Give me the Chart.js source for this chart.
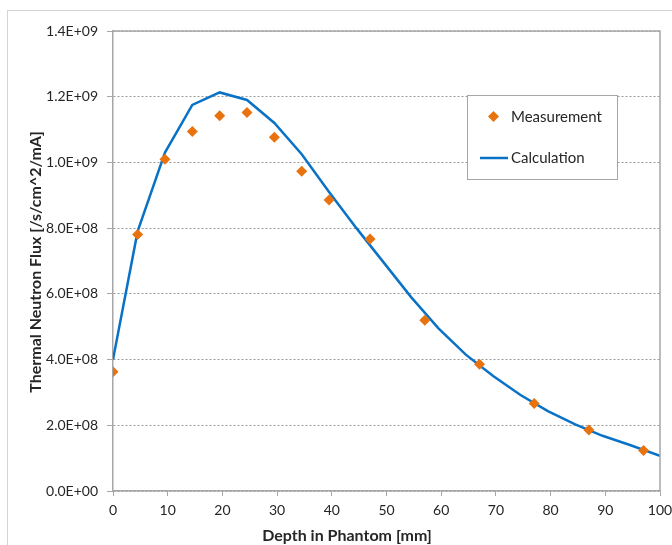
<!DOCTYPE html>
<html>
<head>
<meta charset="utf-8">
<script src="https://cdn.jsdelivr.net/npm/chart.js@4"></script>
<style>
  html, body { margin: 0; padding: 0; background: #fff; }
  #wrap { position: relative; width: 672px; height: 545px; }
</style>
</head>
<body>
<div id="wrap"><canvas id="flux" width="672" height="545"></canvas></div>
<script>
  // depth [mm] and thermal neutron flux [/s/cm^2/mA]
  const measDepth = [0, 4.5, 9.5, 14.5, 19.5, 24.5, 29.5, 34.5, 39.5, 47, 57, 67, 77, 87, 97];
  const measFlux = [3.63e8, 7.81e8, 1.01e9, 1.094e9, 1.142e9, 1.152e9, 1.077e9, 0.973e9, 0.886e9,
    7.67e8, 5.2e8, 3.86e8, 2.66e8, 1.86e8, 1.23e8];

  const calcDepth = [0, 4.5, 9.5, 14.5, 19.5, 24.5, 29.5, 34.5, 39.5, 44.5, 49.5, 54.5, 59.5,
    64.5, 69.5, 74.5, 79.5, 84.5, 89.5, 94.5, 100];
  const calcFlux = [4.0e8, 7.9e8, 1.03e9, 1.175e9, 1.213e9, 1.19e9, 1.12e9, 1.025e9, 0.91e9,
    8.0e8, 6.95e8, 5.9e8, 4.95e8, 4.15e8, 3.5e8, 2.92e8, 2.43e8, 2.03e8, 1.68e8, 1.4e8, 1.07e8];

  const xTicks = [0, 10, 20, 30, 40, 50, 60, 70, 80, 90, 100];
  const yTicks = [0, 2e8, 4e8, 6e8, 8e8, 1.0e9, 1.2e9, 1.4e9];

  const xTitle = 'Depth in Phantom [mm]';
  const yTitle = 'Thermal Neutron Flux [/s/cm^2/mA]';
  const seriesNames = ['Measurement', 'Calculation'];

  const ORANGE = '#E8730E';
  const BLUE = '#0A72C6';
  const AXIS = '#a6a6a6';
  const TEXT = '#262626';

  function pairs(xs, ys) {
    return xs.map((x, i) => ({ x: x, y: ys[i] }));
  }

  function sci(v) {
    if (v === 0) {
      return '0.0E+00';
    }
    const exp = Math.floor(Math.log10(Math.abs(v)) + 1e-9);
    const mant = v / Math.pow(10, exp);
    const e = String(Math.abs(exp)).padStart(2, '0');
    return mant.toFixed(1) + 'E' + (exp < 0 ? '-' : '+') + e;
  }

  // outer frame, plot frame, axis titles and the boxed legend
  const decor = {
    id: 'decor',
    beforeDraw(chart) {
      const ctx = chart.ctx;
      ctx.save();
      ctx.strokeStyle = '#d4d4d4';
      ctx.lineWidth = 1;
      ctx.strokeRect(7.5, 10.5, 700, 600);
      ctx.restore();
    },
    afterDraw(chart) {
      const ctx = chart.ctx;
      const a = chart.chartArea;
      ctx.save();
      ctx.strokeStyle = AXIS;
      ctx.lineWidth = 1.5;
      ctx.beginPath();
      ctx.moveTo(a.left, a.top);
      ctx.lineTo(a.right, a.top);
      ctx.lineTo(a.right, a.bottom);
      ctx.stroke();

      ctx.fillStyle = TEXT;
      ctx.font = 'bold 16px Lato';
      ctx.textAlign = 'center';
      ctx.textBaseline = 'middle';
      ctx.fillText(xTitle, 347, 536);
      ctx.translate(36, 262);
      ctx.rotate(-Math.PI / 2);
      ctx.fillText(yTitle, 0, 0);
      ctx.restore();

      // legend
      ctx.save();
      ctx.fillStyle = '#fff';
      ctx.fillRect(467.5, 95.5, 150, 84);
      ctx.strokeStyle = '#a6a6a6';
      ctx.lineWidth = 1;
      ctx.strokeRect(467.5, 95.5, 150, 84);
      ctx.fillStyle = ORANGE;
      ctx.beginPath();
      ctx.moveTo(493.5, 111);
      ctx.lineTo(499, 116.5);
      ctx.lineTo(493.5, 122);
      ctx.lineTo(488, 116.5);
      ctx.closePath();
      ctx.fill();
      ctx.strokeStyle = BLUE;
      ctx.lineWidth = 2.5;
      ctx.beginPath();
      ctx.moveTo(480, 158);
      ctx.lineTo(508, 158);
      ctx.stroke();
      ctx.fillStyle = TEXT;
      ctx.font = '15px Lato';
      ctx.textAlign = 'left';
      ctx.textBaseline = 'middle';
      ctx.fillText(seriesNames[0], 511, 117);
      ctx.fillText(seriesNames[1], 511, 158);
      ctx.restore();
    },
  };

  new Chart(document.getElementById('flux'), {
    type: 'scatter',
    data: {
      datasets: [
        {
          label: seriesNames[0],
          data: pairs(measDepth, measFlux),
          pointStyle: 'rectRot',
          pointRadius: 5.5,
          pointBackgroundColor: ORANGE,
          pointBorderColor: ORANGE,
          pointBorderWidth: 0,
          showLine: false,
          order: 0,
        },
        {
          label: seriesNames[1],
          data: pairs(calcDepth, calcFlux),
          showLine: true,
          borderColor: BLUE,
          borderWidth: 2.5,
          pointRadius: 0,
          tension: 0,
          order: 1,
        },
      ],
    },
    options: {
      responsive: false,
      animation: false,
      devicePixelRatio: 1,
      layout: { padding: { left: 0, top: 31, right: 12, bottom: 0 } },
      plugins: {
        legend: { display: false },
        tooltip: { enabled: false },
      },
      scales: {
        x: {
          type: 'linear',
          min: 0,
          max: 100,
          afterFit(scale) {
            scale.height = 54;
            scale.paddingLeft = 0;
            scale.paddingRight = 0;
          },
          afterBuildTicks(scale) { scale.ticks = xTicks.map((v) => ({ value: v })); },
          grid: { drawOnChartArea: false, tickLength: 5, tickColor: AXIS, tickWidth: 1 },
          border: { color: AXIS, width: 1.5 },
          ticks: {
            color: TEXT,
            font: { family: 'Lato', size: 14 },
            padding: 6,
            maxRotation: 0,
            autoSkip: false,
          },
        },
        y: {
          type: 'linear',
          min: 0,
          max: 1.4e9,
          afterFit(scale) {
            scale.width = 113;
            scale.paddingTop = 0;
            scale.paddingBottom = 0;
          },
          afterBuildTicks(scale) { scale.ticks = yTicks.map((v) => ({ value: v })); },
          grid: { color: '#9a9a9a', lineWidth: 1, tickLength: 6, tickColor: AXIS, tickWidth: 1 },
          border: { color: AXIS, width: 1.5, dash: [2, 2] },
          ticks: {
            color: TEXT,
            font: { family: 'Lato', size: 14 },
            padding: 9,
            autoSkip: false,
            callback: (v) => sci(v),
          },
        },
      },
    },
    plugins: [decor],
  });
</script>
</body>
</html>
